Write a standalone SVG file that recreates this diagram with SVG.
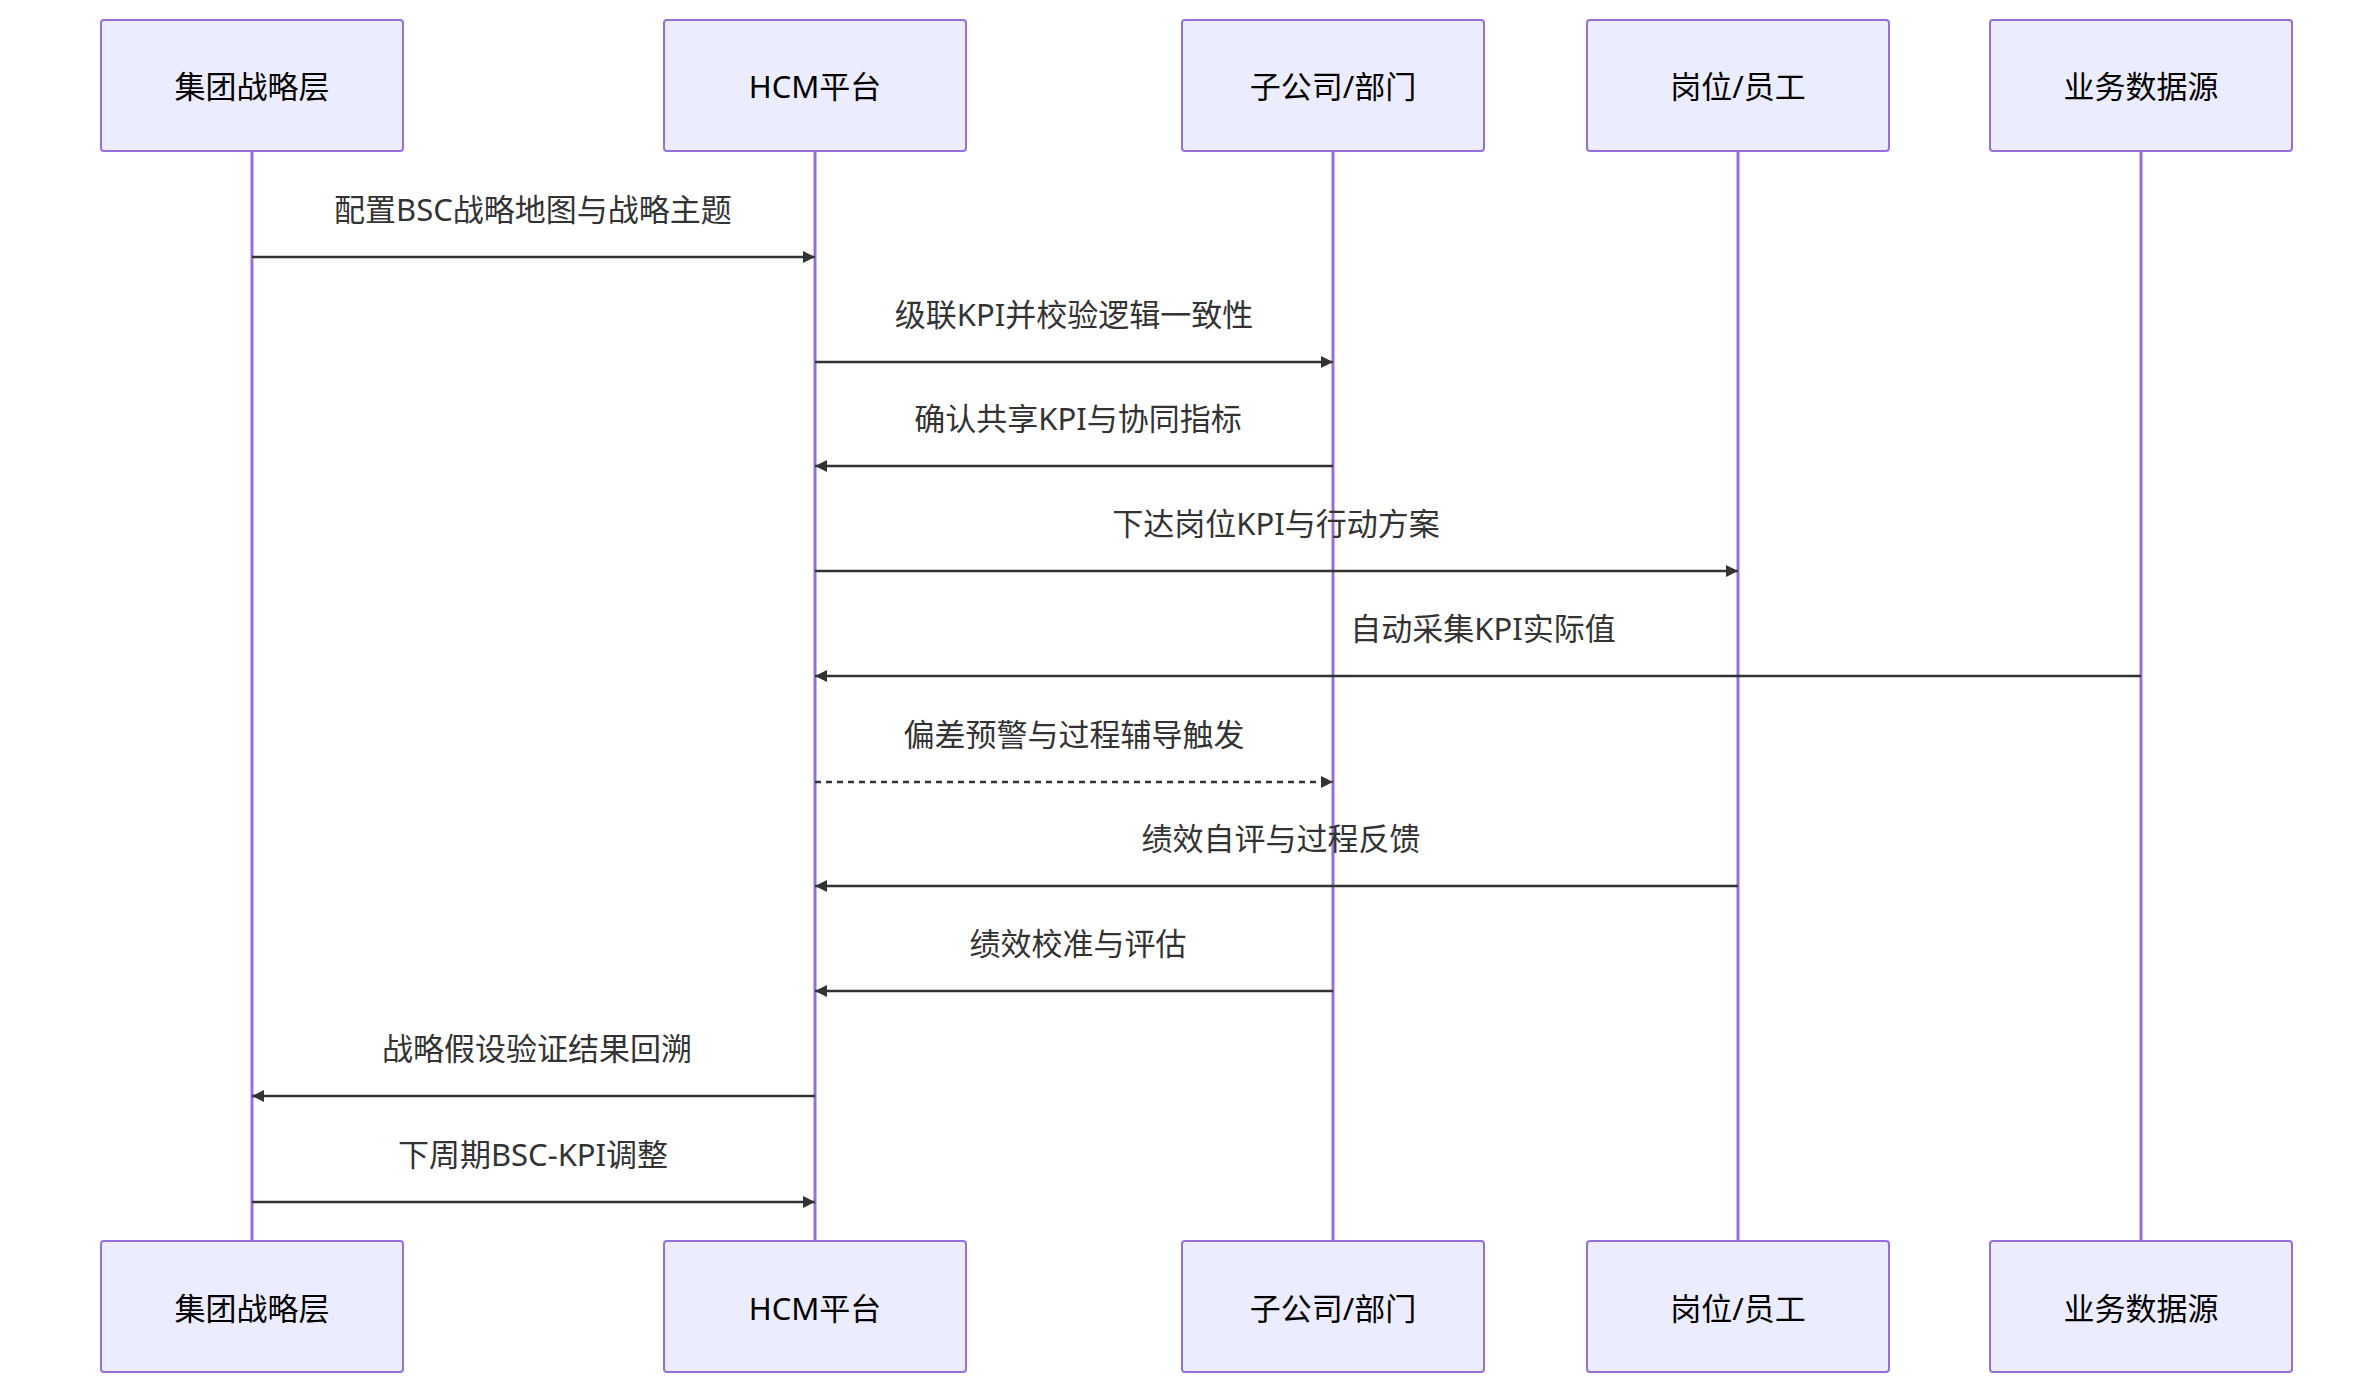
<svg xmlns="http://www.w3.org/2000/svg" width="2370" height="1382" viewBox="0 0 2370 1382">
<style>
.box{fill:#ECECFF;stroke:#9370DB;stroke-width:2}
.life{stroke:#9370DB;stroke-width:3}
.at{font-family:"Noto Sans","Noto Sans CJK SC",sans-serif;font-size:31px;fill:#000;text-anchor:middle;dominant-baseline:central}
.ml{font-family:"Noto Sans","Noto Sans CJK SC",sans-serif;font-size:31px;fill:#333;text-anchor:middle}
.msg{stroke:#333;stroke-width:2.5;fill:none;marker-end:url(#ah)}
.dash{stroke-dasharray:6 5}
</style>
<defs>
<marker id="ah" viewBox="0 0 12 12" refX="12" refY="6" markerWidth="12" markerHeight="12" markerUnits="userSpaceOnUse" orient="auto">
<path d="M0,0 L12,6 L0,12 z" fill="#333"/>
</marker>
</defs>
<rect width="2370" height="1382" fill="#fff"/>
<g id="lifelines">
<line class="life" x1="252" y1="151" x2="252" y2="1241"/>
<line class="life" x1="815" y1="151" x2="815" y2="1241"/>
<line class="life" x1="1333" y1="151" x2="1333" y2="1241"/>
<line class="life" x1="1738" y1="151" x2="1738" y2="1241"/>
<line class="life" x1="2141" y1="151" x2="2141" y2="1241"/>
</g>
<g id="a1"><rect class="box" x="101" y="20" width="302" height="131" rx="3"/><text class="at" x="252" y="86">集团战略层</text></g>
<g id="a2"><rect class="box" x="664" y="20" width="302" height="131" rx="3"/><text class="at" x="815" y="86">HCM平台</text></g>
<g id="a3"><rect class="box" x="1182" y="20" width="302" height="131" rx="3"/><text class="at" x="1333" y="86">子公司/部门</text></g>
<g id="a4"><rect class="box" x="1587" y="20" width="302" height="131" rx="3"/><text class="at" x="1738" y="86">岗位/员工</text></g>
<g id="a5"><rect class="box" x="1990" y="20" width="302" height="131" rx="3"/><text class="at" x="2141" y="86">业务数据源</text></g>
<g id="b1"><rect class="box" x="101" y="1241" width="302" height="131" rx="3"/><text class="at" x="252" y="1308">集团战略层</text></g>
<g id="b2"><rect class="box" x="664" y="1241" width="302" height="131" rx="3"/><text class="at" x="815" y="1308">HCM平台</text></g>
<g id="b3"><rect class="box" x="1182" y="1241" width="302" height="131" rx="3"/><text class="at" x="1333" y="1308">子公司/部门</text></g>
<g id="b4"><rect class="box" x="1587" y="1241" width="302" height="131" rx="3"/><text class="at" x="1738" y="1308">岗位/员工</text></g>
<g id="b5"><rect class="box" x="1990" y="1241" width="302" height="131" rx="3"/><text class="at" x="2141" y="1308">业务数据源</text></g>
<g id="connectors">
<line class="msg" x1="252" y1="257" x2="815" y2="257"/><text class="ml" x="533" y="221">配置BSC战略地图与战略主题</text>
<line class="msg" x1="815" y1="362" x2="1333" y2="362"/><text class="ml" x="1074" y="326">级联KPI并校验逻辑一致性</text>
<line class="msg" x1="1333" y1="466" x2="815" y2="466"/><text class="ml" x="1078" y="430">确认共享KPI与协同指标</text>
<line class="msg" x1="815" y1="571" x2="1738" y2="571"/><text class="ml" x="1276" y="535">下达岗位KPI与行动方案</text>
<line class="msg" x1="2141" y1="676" x2="815" y2="676"/><text class="ml" x="1483" y="640">自动采集KPI实际值</text>
<line class="msg dash" x1="815" y1="782" x2="1333" y2="782"/><text class="ml" x="1074" y="746">偏差预警与过程辅导触发</text>
<line class="msg" x1="1738" y1="886" x2="815" y2="886"/><text class="ml" x="1281" y="850">绩效自评与过程反馈</text>
<line class="msg" x1="1333" y1="991" x2="815" y2="991"/><text class="ml" x="1078" y="955">绩效校准与评估</text>
<line class="msg" x1="815" y1="1096" x2="252" y2="1096"/><text class="ml" x="537" y="1060">战略假设验证结果回溯</text>
<line class="msg" x1="252" y1="1202" x2="815" y2="1202"/><text class="ml" x="533" y="1166">下周期BSC-KPI调整</text>
</g>
</svg>
